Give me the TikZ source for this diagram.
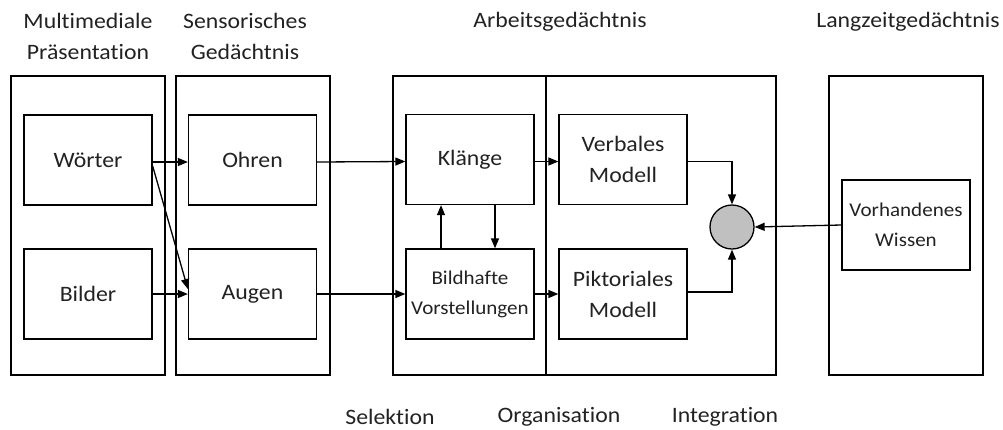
\documentclass[tikz,border=0pt]{standalone}
\usepackage{fontspec}
\setmainfont{Carlito}[FakeStretch=1.08,RawFeature={-liga;-dlig;-clig}]
\usetikzlibrary{arrows.meta,calc}
\definecolor{txt}{HTML}{222222}
\definecolor{knot}{HTML}{C0C0C0}
\tikzset{
  every node/.style={text=txt},
  big/.style={font=\fontsize{22}{31}\selectfont, align=center},
  small/.style={font=\fontsize{19.5}{30}\selectfont, align=center},
  outer/.style={draw, line width=1.3pt, minimum height=299pt, inner sep=0pt},
  inner/.style={draw, line width=1.3pt, minimum width=128pt, minimum height=90pt, inner sep=0pt},
  conn/.style={line width=1.3pt, -{Triangle[length=10pt,width=8pt]}},
}
\begin{document}
\begin{tikzpicture}[x=1pt,y=-1pt]
\useasboundingbox (0,0) rectangle (1003,429);
% outer columns
\node[outer, minimum width=154pt] (mp) at (88,225.5) {};
\node[outer, minimum width=154pt] (sg) at (253,225.5) {};
\node[outer, minimum width=153pt] (ag1) at (469.5,225.5) {};
\node[outer, minimum width=230pt] (ag2) at (661,225.5) {};
\node[outer, minimum width=154pt] (lg) at (906,225.5) {};
% headings
\node[big] (h1) at (88,36) {Multimediale\\Präsentation};
\node[big] (h2) at (245,36) {Sensorisches\\Gedächtnis};
\node[big] (h3) at (560,22) {Arbeitsgedächtnis};
\node[big] (h4) at (908,22) {Langzeitgedächtnis};
% bottom labels
\node[big] (b1) at (390,417) {Selektion};
\node[big] (b2) at (559,417) {Organisation};
\node[big] (b3) at (725,417) {Integration};
% inner boxes
\node[inner, big] (w) at (88,160) {Wörter};
\node[inner, big] (b) at (88,294) {Bilder};
\node[inner, big] (o) at (252.5,160) {Ohren};
\node[inner, big] (a) at (252.5,294) {Augen};
\node[inner, big] (k) at (470,159.5) {Klänge};
\node[inner, small] (bv) at (470,294) {Bildhafte\\Vorstellungen};
\node[inner, big] (vm) at (623,159.5) {Verbales\\Modell};
\node[inner, big] (pm) at (623,294) {Piktoriales\\Modell};
\node[inner, small] (vw) at (906,225) {Vorhandenes\\Wissen};
\node[circle, draw, line width=1.3pt, fill=knot, minimum size=44pt, inner sep=0pt] (c) at (732,227) {};
% connectors
\draw[conn] ($(w.east)+(0,2)$) -- ($(o.west)+(0,2)$);
\draw[conn] ($(w.east)+(0,6)$) -- ($(a.west)+(0,-5)$);
\draw[conn] (b.east) -- (a.west);
\draw[conn] ($(o.east)+(0,2)$) -- ($(k.west)+(0,2)$);
\draw[conn] (a.east) -- (bv.west);
\draw[conn] ($(k.east)+(0,2)$) -- ($(vm.west)+(0,2)$);
\draw[conn] (bv.east) -- (pm.west);
\draw[conn] ($(bv.north)+(-29,0)$) -- ($(k.south)+(-29,0)$);
\draw[conn] ($(k.south)+(25,0)$) -- ($(bv.north)+(25,0)$);
\draw[conn] ($(vm.east)+(0,2)$) -| (c.north);
\draw[conn] ($(pm.east)+(0,-2)$) -| (c.south);
\draw[conn] (vw.west) -- (c.east);
\end{tikzpicture}
\end{document}
